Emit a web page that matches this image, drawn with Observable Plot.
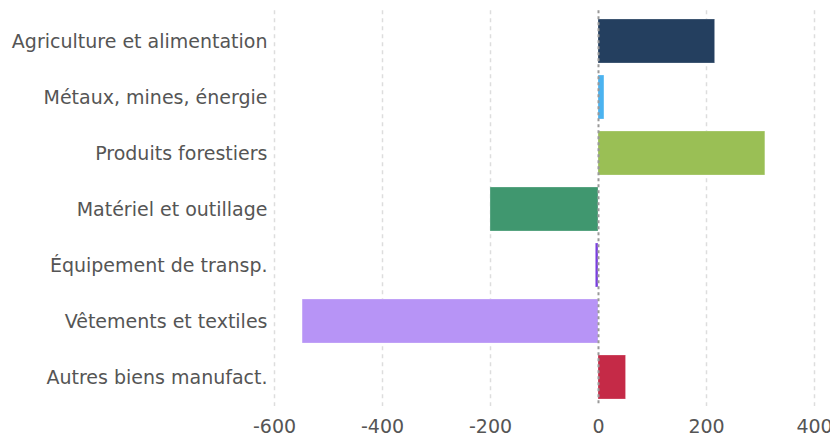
<!DOCTYPE html>
<html><head><meta charset="utf-8">
<script src="https://cdn.jsdelivr.net/npm/d3@7"></script>
<script src="https://cdn.jsdelivr.net/npm/@observablehq/plot@0.6"></script>
<style>body{margin:0;background:#fff;} svg text{font-family:"DejaVu Sans",Verdana,sans-serif !important;}</style>
</head><body><div id="chart"></div>
<script>
const categories = ["Agriculture et alimentation","Métaux, mines, énergie","Produits forestiers","Matériel et outillage","Équipement de transp.","Vêtements et textiles","Autres biens manufact."];
const values = [216, 11, 309, -200, -5, -548, 51];
const colors = ["#243f5f","#4bb3f0","#9abf55","#40976f","#7b3fdf","#b794f6","#c52a47"];
const xTicks = [-600,-400,-200,0,200,400];

const data = categories.map((c,i)=>({category:c, value:values[i], color:colors[i]}));

const chart = Plot.plot({
  width: 830,
  height: 439,
  marginLeft: 274,
  marginRight: 16,
  marginTop: 4.2,
  marginBottom: 26.5,
  style: {fontFamily: "'DejaVu Sans'", fontSize: "19px", color: "#555", background: "#fff"},
  x: {domain: [-600, 400], ticks: xTicks, tickFormat: d => String(d), tickSize: 0, tickPadding: 6, label: null},
  y: {domain: categories, padding: 0.222, tickSize: 0, tickPadding: 7, label: null},
  marks: [
    Plot.ruleX(xTicks.filter(d=>d!==0), {stroke:"#ddd", strokeWidth:1.5, strokeDasharray:"4,4", insetTop:6, insetBottom:6.5}),
    Plot.barX(data, {y:"category", x:"value", fill:"color", stroke:"#fff", strokeWidth:0.5, strokeOpacity:0.5}),
    Plot.ruleX([0], {stroke:"#999", strokeWidth:2, strokeDasharray:"3,3", insetTop:6, insetBottom:6.5})
  ]
});
document.getElementById("chart").appendChild(chart);
</script></body></html>
